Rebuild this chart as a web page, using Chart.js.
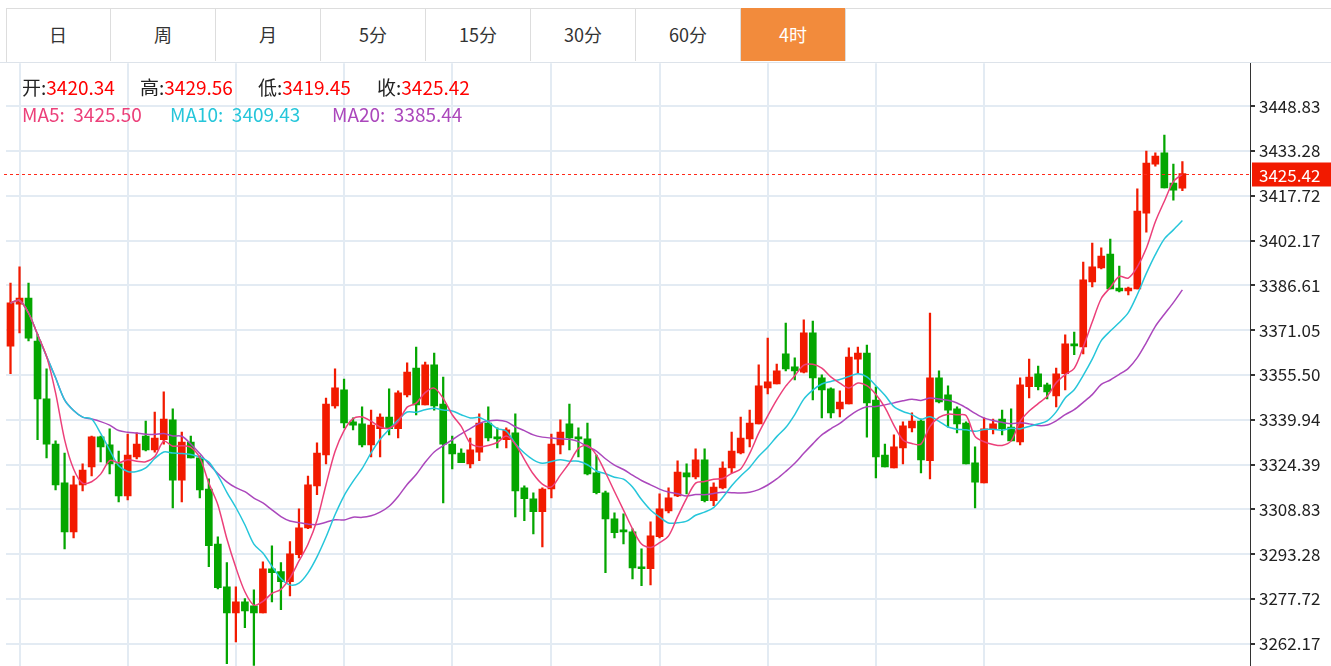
<!DOCTYPE html>
<html>
<head>
<meta charset="utf-8">
<script src="https://cdn.jsdelivr.net/npm/chart.js@4.4.1/dist/chart.umd.min.js"></script>
<style>
  body { margin: 0; background: #fff; font-family: "Noto Sans CJK SC", "Noto Sans", sans-serif; overflow: hidden; }
  .tabs { position: absolute; left: 6px; top: 8px; height: 53px; display: flex; }
  .tabs div { width: 104px; height: 53px; line-height: 53px; text-align: center; font-size: 18px; color: #333;
    border-right: 1px solid #ddd; }
  .tabs div.active { background: #f28b3c; color: #fff; }
  .topline { position: absolute; left: 6px; right: 0; top: 8px; border-top: 1px solid #ddd; }
  .leftline { position: absolute; left: 6px; top: 8px; height: 54px; border-left: 1px solid #ddd; }
  .midline { position: absolute; left: 0; right: 0; top: 62px; border-top: 1px solid #dde3ea; }
  .wrap { position: absolute; left: 0; top: 49px; width: 1331px; height: 631px; }
  .info { position: absolute; font-size: 19px; white-space: pre; line-height: 24px; }
  .k { color: #222; } .v { color: #f00; }
</style>
</head>
<body>
<div class="topline"></div>
<div class="leftline"></div>
<div class="midline"></div>
<div class="tabs">
  <div>日</div><div>周</div><div>月</div><div>5分</div><div>15分</div><div>30分</div><div>60分</div><div class="active">4时</div>
</div>
<div class="wrap"><canvas id="kline" width="1331" height="631"></canvas></div>
<div class="info" style="top:75px;left:22px"><span class="k">开:</span><span class="v">3420.34</span></div>
<div class="info" style="top:75px;left:140px"><span class="k">高:</span><span class="v">3429.56</span></div>
<div class="info" style="top:75px;left:258px"><span class="k">低:</span><span class="v">3419.45</span></div>
<div class="info" style="top:75px;left:377px"><span class="k">收:</span><span class="v">3425.42</span></div>
<div class="info" style="top:102px;left:22px;color:#ec407a">MA5:  3425.50</div>
<div class="info" style="top:102px;left:170px;color:#26c6da">MA10:  3409.43</div>
<div class="info" style="top:102px;left:332px;color:#ab47bc">MA20:  3385.44</div>
<script>
// candles (4h bars)
const opens  = [3365.5,3380.1,3382.2,3367.3,3347.2,3331.5,3318.0,3301.0,3317.3,3323.6,3334.0,3331.2,3324.6,3313.5,3327.0,3334.3,3329.5,3333.0,3339.9,3319.0,
  3332.2,3326.7,3315.9,3296.8,3281.9,3272.9,3276.7,3275.3,3272.9,3288.2,3287.2,3283.7,3293.1,3302.4,3317.0,3327.7,3344.7,3350.3,3339.2,3338.5,
  3331.2,3336.8,3340.9,3336.8,3348.6,3357.9,3345.1,3359.0,3345.4,3331.5,3328.4,3324.6,3328.7,3338.8,3334.0,3333.0,3335.4,3316.3,3312.5,3308.0,
  3315.9,3331.2,3338.5,3334.0,3333.3,3321.5,3314.6,3305.5,3301.7,3301.0,3288.9,3288.2,3299.3,3308.3,3313.5,3321.5,3320.1,3326.0,3311.8,3316.3,
  3323.2,3328.4,3333.3,3338.5,3351.0,3352.4,3362.8,3358.3,3356.5,3370.1,3354.5,3350.7,3343.7,3345.4,3361.0,3363.1,3346.8,3327.7,3323.2,3330.2,
  3337.1,3339.5,3325.7,3354.5,3348.6,3343.7,3338.8,3325.0,3318.0,3336.8,3340.2,3337.4,3332.2,3351.4,3355.9,3352.1,3348.2,3355.9,3366.3,3365.2,
  3387.8,3392.7,3397.5,3385.7,3384.7,3385.4,3411.7,3428.7,3432.6,3422.1,3420.34];
const highs  = [3387.4,3393.0,3387.4,3369.7,3357.6,3332.6,3328.4,3320.4,3324.6,3334.3,3334.3,3336.8,3329.1,3335.0,3335.4,3339.5,3342.6,3349.6,3343.7,3335.7,
  3334.3,3327.4,3319.4,3299.3,3290.3,3281.9,3277.8,3280.9,3290.6,3296.2,3290.3,3297.6,3309.0,3320.4,3331.9,3347.5,3357.6,3354.1,3340.6,3344.4,
  3343.3,3342.0,3350.7,3350.0,3359.7,3365.2,3360.0,3363.1,3354.8,3334.3,3329.8,3333.6,3342.0,3344.4,3337.1,3337.1,3342.0,3317.0,3314.6,3316.3,
  3335.0,3339.9,3345.4,3337.1,3338.8,3327.7,3315.2,3307.6,3307.3,3302.1,3295.1,3304.5,3314.2,3316.3,3325.7,3324.6,3329.8,3329.8,3318.0,3325.3,
  3335.7,3340.9,3343.3,3359.0,3368.3,3359.3,3373.5,3361.4,3374.6,3374.2,3355.5,3351.0,3350.0,3364.9,3365.2,3365.9,3351.4,3331.5,3334.7,3339.2,
  3342.3,3340.2,3377.0,3356.9,3351.7,3344.4,3339.2,3330.5,3340.6,3340.2,3343.3,3343.7,3354.5,3361.0,3358.6,3352.7,3357.9,3369.4,3370.4,3394.7,
  3401.3,3399.6,3402.7,3393.3,3386.0,3420.1,3433.2,3432.6,3438.8,3428.7,3429.56];
const lows   = [3355.9,3370.1,3367.3,3333.0,3326.7,3315.6,3295.1,3298.9,3315.2,3320.4,3325.3,3321.1,3311.4,3312.1,3326.3,3329.1,3328.7,3331.5,3309.3,3311.4,
  3326.7,3312.8,3288.9,3281.2,3255.2,3262.8,3267.7,3253.8,3272.9,3276.7,3274.0,3278.8,3292.0,3302.1,3313.9,3324.6,3344.0,3337.1,3336.4,3330.5,
  3327.0,3327.0,3334.7,3333.6,3347.9,3341.6,3345.1,3343.3,3311.1,3322.9,3325.0,3323.2,3325.7,3332.6,3330.2,3330.2,3306.2,3304.9,3300.3,3295.8,
  3312.8,3328.1,3329.5,3327.0,3320.8,3314.2,3286.8,3298.9,3296.8,3284.7,3282.3,3282.6,3298.9,3307.6,3313.2,3314.2,3319.4,3311.4,3310.1,3315.9,
  3321.5,3328.1,3330.5,3338.5,3348.9,3352.4,3356.9,3353.8,3356.2,3346.8,3340.6,3340.6,3340.9,3345.4,3356.2,3333.9,3319.7,3323.6,3323.2,3324.6,
  3335.7,3321.5,3319.4,3345.8,3337.4,3335.4,3324.6,3309.3,3318.0,3335.0,3334.7,3332.6,3331.2,3347.5,3350.3,3347.2,3344.4,3350.3,3362.5,3362.8,
  3386.1,3392.3,3385.4,3384.3,3383.3,3385.4,3405.1,3428.0,3420.4,3416.2,3419.45];
const closes = [3380.5,3382.2,3368.3,3347.2,3331.5,3317.3,3301.0,3317.3,3322.5,3334.0,3330.5,3324.6,3313.5,3327.7,3331.5,3329.5,3333.6,3340.2,3319.0,3332.2,
  3326.7,3315.6,3296.2,3281.6,3272.9,3276.7,3273.6,3272.9,3288.2,3286.8,3283.7,3293.4,3302.4,3317.3,3328.4,3345.4,3351.0,3338.8,3338.1,3331.2,
  3338.1,3340.9,3336.8,3349.3,3356.5,3345.1,3359.0,3344.7,3331.5,3328.1,3325.0,3329.5,3338.8,3333.6,3333.3,3336.4,3315.2,3312.5,3308.0,3315.9,
  3331.5,3335.7,3333.6,3333.3,3321.1,3314.6,3305.5,3300.7,3301.0,3288.5,3288.2,3299.6,3309.0,3312.8,3321.8,3320.1,3326.0,3311.8,3316.6,3323.2,
  3329.1,3333.6,3338.8,3351.7,3353.1,3356.9,3357.6,3356.9,3370.1,3354.5,3350.3,3342.3,3346.1,3361.7,3363.1,3345.8,3327.0,3323.6,3330.5,3337.8,
  3339.5,3326.0,3354.5,3346.1,3343.3,3338.5,3324.6,3318.3,3336.8,3338.5,3336.8,3332.6,3352.1,3354.8,3351.4,3349.6,3355.9,3366.3,3365.6,3388.5,
  3393.0,3396.8,3385.4,3384.7,3385.7,3412.4,3429.1,3431.5,3420.4,3419.7,3425.42];
const yTicks = [3262.17,3277.72,3293.28,3308.83,3324.39,3339.94,3355.50,3371.05,3386.61,3402.17,3417.72,3433.28,3448.83];
const gridAt = [1,13,25,37,49,60,72,84,96,108];   // day boundaries
const lastPrice = 3425.42;
const padBars = 7;

const UP = '#f21a00', DOWN = '#04a600';
const n = closes.length;
const labels = Array.from({length: n + padBars}, (_, i) => i);
const colors = closes.map((c, i) => c >= opens[i] ? UP : DOWN);

function ma(k) {
  return closes.map((_, i) => {
    const s = closes.slice(Math.max(0, i - k + 1), i + 1);
    return s.reduce((a, b) => a + b, 0) / s.length;
  });
}

const lastLine = {
  id: 'lastLine',
  afterDatasetsDraw(chart) {
    const { ctx, chartArea, scales: { y } } = chart;
    const py = Math.round(y.getPixelForValue(lastPrice)) + 0.5;
    ctx.save();
    ctx.strokeStyle = '#ff2a1a';
    ctx.lineWidth = 1.2;
    ctx.setLineDash([3, 3]);
    ctx.beginPath();
    ctx.moveTo(chartArea.left - 2, py);
    ctx.lineTo(chartArea.right, py);
    ctx.stroke();
    ctx.setLineDash([]);
    ctx.fillStyle = '#f21a00';
    ctx.fillRect(chartArea.right + 2, py - 12, 80, 24);
    ctx.fillStyle = '#fff';
    ctx.font = '17px "Noto Sans CJK SC", sans-serif';
    ctx.textBaseline = 'middle';
    ctx.fillText(lastPrice.toFixed(2), chartArea.right + 9, py + 1);
    ctx.restore();
  }
};

new Chart(document.getElementById('kline'), {
  type: 'bar',
  data: {
    labels: labels,
    datasets: [
      { type: 'line', data: ma(5), borderColor: '#ec407a', borderWidth: 1.5, pointRadius: 0, tension: 0.3, order: 0 },
      { type: 'line', data: ma(10), borderColor: '#26c6da', borderWidth: 1.5, pointRadius: 0, tension: 0.3, order: 0 },
      { type: 'line', data: ma(20), borderColor: '#ab47bc', borderWidth: 1.5, pointRadius: 0, tension: 0.3, order: 0 },
      { data: lows.map((l, i) => [l, highs[i]]), backgroundColor: colors, barThickness: 1.6, grouped: false, order: 2 },
      { data: opens.map((o, i) => [o, closes[i]]), backgroundColor: colors, barThickness: 7, minBarLength: 1.5, grouped: false, order: 1 }
    ]
  },
  options: {
    responsive: false,
    animation: false,
    events: [],
    layout: { padding: { left: 6, top: 0, right: 0, bottom: 0 } },
    plugins: { legend: { display: false }, tooltip: { enabled: false } },
    scales: {
      x: {
        offset: true,
        ticks: { display: false },
        afterFit: s => { s.height = 0; },
        border: { display: false },
        grid: { offset: false, drawTicks: false,
          color: c => gridAt.includes(c.index) ? '#e3ebf3' : 'rgba(0,0,0,0)', lineWidth: 2 }
      },
      y: {
        position: 'right',
        min: 3254.5, max: 3463.75,
        afterBuildTicks: s => { s.ticks = yTicks.map(v => ({ value: v })); },
        afterFit: s => { s.width = 81; },
        border: { color: '#333' },
        grid: { color: '#e3ebf3', lineWidth: 2, tickLength: 5, tickColor: '#333' },
        ticks: { color: '#222', padding: 4, font: { size: 17, family: '"Noto Sans CJK SC", sans-serif' },
          callback: v => v.toFixed(2) }
      }
    }
  },
  plugins: [lastLine]
});
</script>
</body>
</html>
